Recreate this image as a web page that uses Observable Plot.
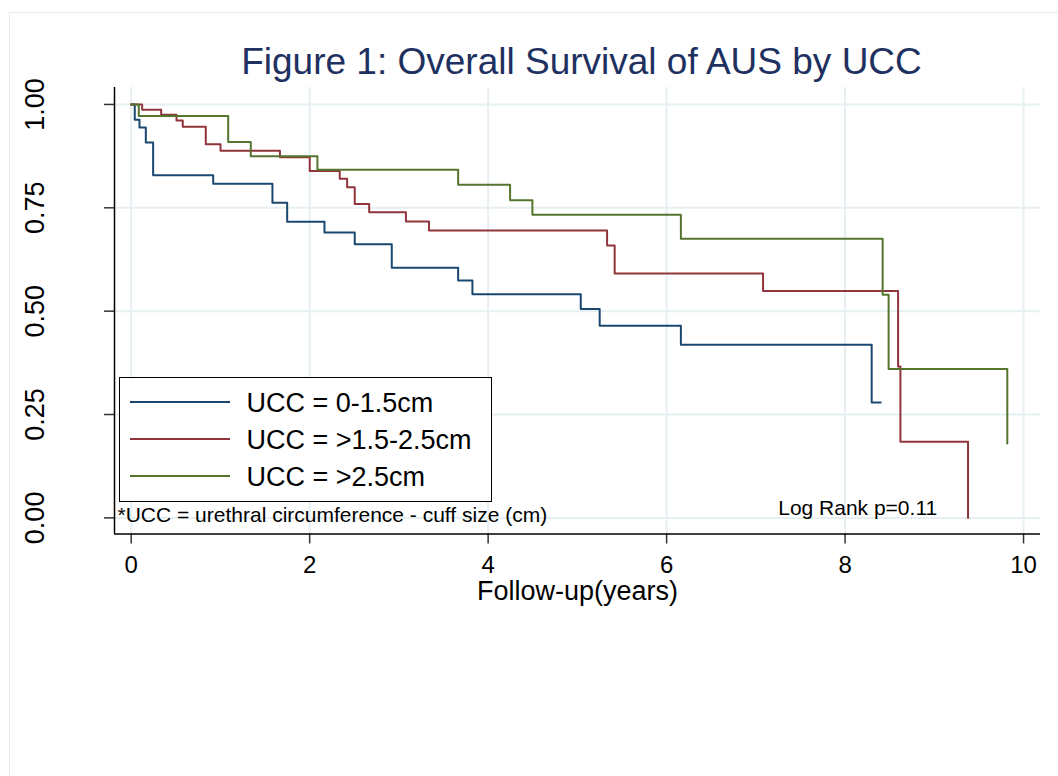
<!DOCTYPE html>
<html>
<head>
<meta charset="utf-8">
<script src="https://cdn.jsdelivr.net/npm/d3@7"></script>
<script src="https://cdn.jsdelivr.net/npm/@observablehq/plot@0.6"></script>
<style>
  html, body { margin: 0; padding: 0; background: #fff; overflow: hidden; }
  #wrap { position: relative; width: 1058px; height: 776px; font-family: "Liberation Sans", Arial, Helvetica, sans-serif; }
  #border { position: absolute; left: 9px; top: 12px; width: 1200px; height: 900px; border: 1px solid #e6eeec; box-sizing: border-box; }
  #chart { position: absolute; left: 0; top: 0; }
  #legend { position: absolute; left: 119px; top: 377px; width: 373px; height: 125px; border: 1.5px solid #000; box-sizing: border-box; background: #fff; }
  .row { position: absolute; left: 0; height: 37.2px; display: flex; align-items: center; }
  .sw { margin-left: 9.5px; width: 100px; height: 2px; }
  .lab { margin-left: 17px; font-size: 27px; line-height: 1; padding-top: 3px; color: #000; white-space: nowrap; }
</style>
</head>
<body>
<div id="wrap">
  <div id="border"></div>
  <div id="chart"></div>
  <div id="legend"></div>
</div>
<script>
// ---- data ----
const groups = ["UCC = 0-1.5cm", "UCC = >1.5-2.5cm", "UCC = >2.5cm"];
const colors = ["#1a476f", "#90353b", "#55752f"];

const blueT = [0, 0.040, 0.093, 0.164, 0.246, 0.919, 1.583, 1.748, 2.166, 2.505, 2.920, 3.664, 3.824, 5.038, 5.250, 6.160, 8.298, 8.399];
const blueS = [1, 0.963, 0.944, 0.908, 0.829, 0.808, 0.762, 0.716, 0.690, 0.662, 0.605, 0.574, 0.541, 0.505, 0.465, 0.419, 0.279, 0.279];

const redT = [0, 0.123, 0.336, 0.508, 0.578, 0.836, 1.001, 1.667, 2.001, 2.337, 2.420, 2.505, 2.667, 3.079, 3.337, 5.333, 5.418, 7.081, 8.594, 8.620, 9.378];
const redS = [1, 0.987, 0.975, 0.961, 0.946, 0.904, 0.888, 0.872, 0.839, 0.820, 0.800, 0.759, 0.739, 0.717, 0.695, 0.659, 0.591, 0.549, 0.366, 0.184, 0];

const greenT = [0, 0.085, 1.087, 1.340, 2.087, 3.664, 4.246, 4.496, 6.160, 8.421, 8.488, 9.818];
const greenS = [1, 0.972, 0.909, 0.875, 0.842, 0.806, 0.768, 0.733, 0.675, 0.540, 0.360, 0.180];

const xTicks = [0, 2, 4, 6, 8, 10];
const yTicks = [0, 0.25, 0.5, 0.75, 1];
const xDomain = [-0.187, 10.19];
const yDomain = [-0.039, 1.041];

const titleText = "Figure 1: Overall Survival of AUS by UCC";
const xLabel = "Follow-up(years)";
const footnote = "*UCC = urethral circumference - cuff size (cm)";
const logRank = "Log Rank p=0.11";

// ---- build table ----
const seriesT = [blueT, redT, greenT];
const seriesS = [blueS, redS, greenS];
const rows = [];
seriesT.forEach((ts, g) => ts.forEach((t, i) => rows.push({group: groups[g], t, s: seriesS[g][i]})));

const font = '"Liberation Sans", Arial, Helvetica, sans-serif';
const gridColor = "#e6eff2";

const chart = Plot.plot({
  width: 1058,
  height: 776,
  marginLeft: 114,
  marginRight: 18,
  marginTop: 87,
  marginBottom: 242.5,
  style: {background: "transparent", fontFamily: font, overflow: "visible"},
  x: {domain: xDomain, label: null},
  y: {domain: yDomain, label: null},
  color: {domain: groups, range: colors},
  marks: [
    Plot.gridX({ticks: xTicks, stroke: gridColor, strokeOpacity: 1, strokeWidth: 2}),
    Plot.gridY({ticks: yTicks, stroke: gridColor, strokeOpacity: 1, strokeWidth: 2}),
    Plot.axisX({ticks: xTicks, tickSize: 10, tickFormat: () => "", label: null, stroke: "#333", strokeWidth: 1.5}),
    Plot.axisY({ticks: yTicks, tickSize: 10, tickFormat: () => "", label: null, stroke: "#333", strokeWidth: 1.5}),
    Plot.ruleX([xDomain[0]], {stroke: "#000", strokeWidth: 1.5}),
    Plot.ruleY([yDomain[0]], {stroke: "#000", strokeWidth: 1.5}),
    Plot.line(rows, {x: "t", y: "s", z: "group", stroke: "group", curve: "step-after", strokeWidth: 2}),
    Plot.text(yTicks, {y: d => d, text: d => d3.format(".2f")(d), frameAnchor: "left", dx: -79.5, rotate: -90, textAnchor: "middle", lineAnchor: "middle", fontSize: 27, fill: "#000"}),
    Plot.text(xTicks, {x: d => d, text: d => String(d), frameAnchor: "bottom", dy: 38.5, lineAnchor: "bottom", fontSize: 24, fill: "#000"}),
    Plot.text([xLabel], {text: d => d, frameAnchor: "bottom", dy: 65.8, lineAnchor: "bottom", fontSize: 27, fill: "#000"}),
    Plot.text([titleText], {text: d => d, frameAnchor: "top", dx: 4, dy: -14, lineAnchor: "bottom", fontSize: 37, fill: "#1e3160"}),
    Plot.text([footnote], {text: d => d, frameAnchor: "bottom-left", dx: 3, dy: -11.8, textAnchor: "start", lineAnchor: "bottom", fontSize: 21, fill: "#000"}),
    Plot.text([logRank], {text: d => d, frameAnchor: "bottom-right", dx: -103.3, dy: -19.5, textAnchor: "end", lineAnchor: "bottom", fontSize: 21, fill: "#000"})
  ]
});
document.getElementById("chart").appendChild(chart);

// ---- legend ----
const legend = document.getElementById("legend");
const rowCenters = [23.8, 61, 98.2];
groups.forEach((g, i) => {
  const r = document.createElement("div");
  r.className = "row";
  r.style.top = (rowCenters[i] - 18.6) + "px";
  const sw = document.createElement("div");
  sw.className = "sw";
  sw.style.background = colors[i];
  const lab = document.createElement("div");
  lab.className = "lab";
  lab.textContent = g;
  r.appendChild(sw);
  r.appendChild(lab);
  legend.appendChild(r);
});
</script>
</body>
</html>
